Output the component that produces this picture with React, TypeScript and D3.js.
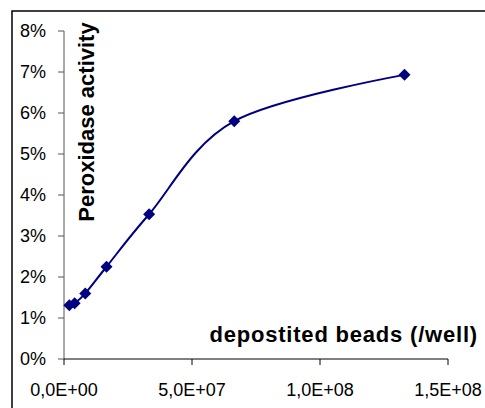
import * as d3 from "d3";

// deposited beads per well and measured peroxidase activity (fraction)
const beads = [2.08e6, 4.16e6, 8.31e6, 1.66e7, 3.325e7, 6.65e7, 1.33e8];
const activity = [0.0131, 0.0136, 0.016, 0.0225, 0.0353, 0.058, 0.0693];
const yTicks = [0, 0.01, 0.02, 0.03, 0.04, 0.05, 0.06, 0.07, 0.08];
const xTicks = [0, 5e7, 1e8, 1.5e8];
const xTickLabels = ["0,0E+00", "5,0E+07", "1,0E+08", "1,5E+08"];

const W = 485;
const H = 408;
const FONT = "Arial, 'Liberation Sans', sans-serif";

export default function App() {
  const x = d3.scaleLinear().domain([0, 1.5e8]).range([64, 448]);
  const y = d3.scaleLinear().domain([0, 0.08]).range([359, 31]);

  const pts = beads.map((b, i) => [x(b), y(activity[i])] as [number, number]);
  const line = d3.line().curve(d3.curveCardinal.tension(0));
  const path = line(pts) || "";

  return (
    <svg
      width={W}
      height={H}
      style={{ position: "absolute", left: 0, top: 0, background: "#fff" }}
    >
      {/* chart frame */}
      <rect x={12} y={11} width={W} height={H} fill="none" stroke="#000" strokeWidth={1.5} />

      {/* y axis */}
      <line x1={64} x2={64} y1={y(0.08)} y2={y(0)} stroke="#555" strokeWidth={1} />
      {yTicks.map((t) => (
        <g key={t}>
          <line x1={58} x2={64} y1={y(t)} y2={y(t)} stroke="#555" strokeWidth={1} />
          <text
            x={46}
            y={y(t) + 6}
            textAnchor="end"
            fontFamily={FONT}
            fontSize={18}
            fill="#000"
          >
            {d3.format(".0%")(t)}
          </text>
        </g>
      ))}

      {/* x axis */}
      <line x1={x(0)} x2={x(1.5e8)} y1={359} y2={359} stroke="#000" strokeWidth={1} />
      {xTicks.map((t, i) => (
        <g key={t}>
          <line x1={x(t)} x2={x(t)} y1={359} y2={365} stroke="#000" strokeWidth={1} />
          <text
            x={x(t)}
            y={396}
            textAnchor="middle"
            fontFamily={FONT}
            fontSize={18}
            fill="#000"
          >
            {xTickLabels[i]}
          </text>
        </g>
      ))}

      {/* axis titles */}
      <text
        transform="translate(94,122) rotate(-90)"
        textAnchor="middle"
        fontFamily={FONT}
        fontWeight="bold"
        fontSize={22}
        fill="#000"
      >
        Peroxidase activity
      </text>
      <text
        x={478}
        y={342}
        textAnchor="end"
        fontFamily={FONT}
        fontWeight="bold"
        fontSize={22}
        letterSpacing={0.8}
        fill="#000"
      >
        depostited beads (/well)
      </text>

      {/* series */}
      <path d={path} fill="none" stroke="#000080" strokeWidth={2} />
      {pts.map(([px, py], i) => (
        <path
          key={i}
          d={`M${px},${py - 6}L${px + 6},${py}L${px},${py + 6}L${px - 6},${py}Z`}
          fill="#000080"
        />
      ))}
    </svg>
  );
}
